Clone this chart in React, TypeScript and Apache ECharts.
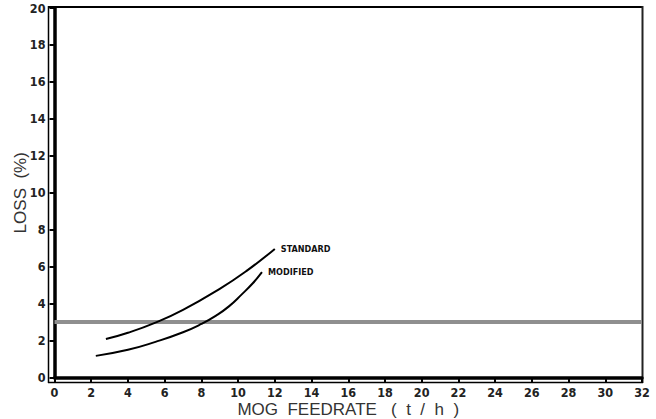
import React, { useEffect, useRef } from "react";
import * as echarts from "echarts";

const xTicks = { min: 0, max: 32, interval: 2 };
const yTicks = { min: 0, max: 20, interval: 2 };

const standardX = [2.8, 4, 5.5, 7, 9, 10.5, 12];
const standardY = [2.08, 2.42, 2.97, 3.66, 4.8, 5.8, 6.96];

const modifiedX = [2.25, 4, 5.5, 7, 8, 8.8, 9.5, 10.2, 10.8, 11.3];
const modifiedY = [1.17, 1.5, 1.93, 2.45, 2.9, 3.35, 3.85, 4.5, 5.1, 5.7];

const limitX = [0, 32];
const limitY = [3, 3];

const seriesNames = ["STANDARD", "MODIFIED"];
const xTitle = "MOG  FEEDRATE   (  t  /  h  )";
const yTitle = "LOSS  (%)";

const zip = (xs: number[], ys: number[]) => xs.map((x, i) => [x, ys[i]]);

const tickFont = '"DejaVu Sans Condensed", "Liberation Sans Narrow", sans-serif';
const titleFont = '"Liberation Sans", Arial, sans-serif';

export default function App() {
  const ref = useRef<HTMLDivElement>(null);
  useEffect(() => {
    if (!ref.current) return;
    const chart = echarts.init(ref.current, undefined, { renderer: "svg" });
    const endLabel = (text: string) => ({
      show: true,
      formatter: text,
      fontFamily: tickFont,
      fontWeight: "bold" as const,
      fontSize: 9,
      color: "#111",
      distance: 6,
    });
    chart.setOption({
      animation: false,
      backgroundColor: "#fff",
      grid: { left: 54.5, right: 14, top: 8, bottom: 41.5, containLabel: false, outerBoundsMode: "none" },
      xAxis: {
        type: "value",
        min: xTicks.min,
        max: xTicks.max,
        interval: xTicks.interval,
        name: xTitle,
        nameLocation: "middle",
        nameGap: 23,
        nameMoveOverlap: false,
        nameTextStyle: { fontFamily: titleFont, fontSize: 17, color: "#333" },
        axisLine: { show: true, lineStyle: { color: "#000", width: 3.5 } },
        axisTick: { show: true, length: 5, lineStyle: { color: "#000", width: 2 } },
        axisLabel: { margin: 8, fontFamily: tickFont, fontWeight: "bold", fontSize: 12.5, color: "#222" },
        splitLine: { show: false },
      },
      yAxis: {
        type: "value",
        min: yTicks.min,
        max: yTicks.max,
        interval: yTicks.interval,
        name: yTitle,
        nameLocation: "middle",
        nameGap: 26,
        nameMoveOverlap: false,
        nameTextStyle: { fontFamily: titleFont, fontSize: 17, color: "#333" },
        axisLine: { show: true, lineStyle: { color: "#000", width: 3.5 } },
        axisTick: { show: true, length: 5, lineStyle: { color: "#000", width: 2 } },
        axisLabel: { margin: 9, fontFamily: tickFont, fontWeight: "bold", fontSize: 12.5, color: "#222" },
        splitLine: { show: false },
      },
      graphic: [
        { type: "line", shape: { x1: 48, y1: 7, x2: 643, y2: 7 }, style: { stroke: "#000", lineWidth: 2 } },
        { type: "line", shape: { x1: 642.5, y1: 6, x2: 642.5, y2: 383 }, style: { stroke: "#222", lineWidth: 2 } },
        { type: "line", shape: { x1: 48.5, y1: 6, x2: 48.5, y2: 383 }, style: { stroke: "#000", lineWidth: 1.5 } },
        { type: "line", shape: { x1: 48, y1: 382.5, x2: 643, y2: 382.5 }, style: { stroke: "#000", lineWidth: 1.5 } },
      ],
      series: [
        {
          type: "line",
          data: zip(limitX, limitY),
          symbol: "none",
          lineStyle: { color: "#8f8f8f", width: 4 },
          z: 1,
        },
        {
          name: seriesNames[0],
          type: "line",
          data: zip(standardX, standardY),
          smooth: 0.5,
          symbol: "none",
          lineStyle: { color: "#000", width: 2 },
          endLabel: endLabel(seriesNames[0]),
          z: 3,
        },
        {
          name: seriesNames[1],
          type: "line",
          data: zip(modifiedX, modifiedY),
          smooth: 0.5,
          symbol: "none",
          lineStyle: { color: "#000", width: 2 },
          endLabel: endLabel(seriesNames[1]),
          z: 3,
        },
      ],
    });
    return () => chart.dispose();
  }, []);
  return (
    <div
      ref={ref}
      style={{ position: "fixed", left: 0, top: 0, width: 656, height: 419, background: "#fff" }}
    />
  );
}
